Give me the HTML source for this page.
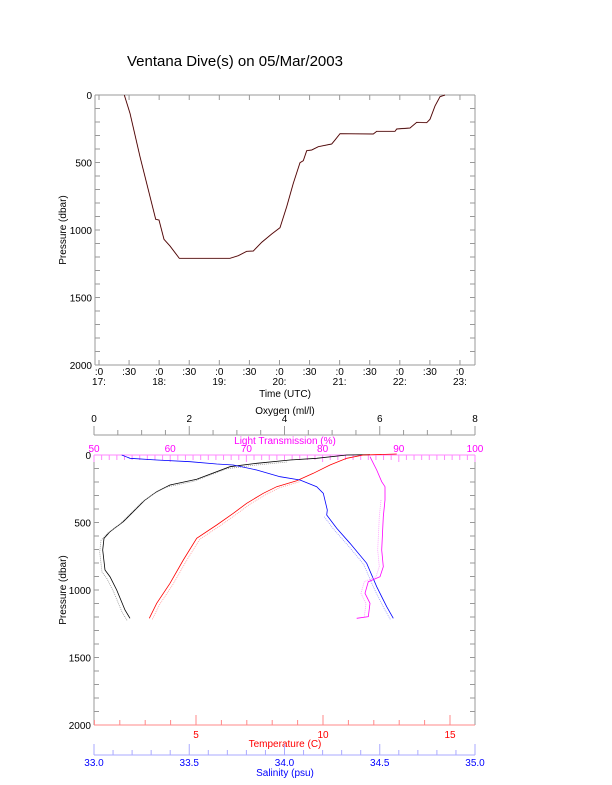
<!DOCTYPE html>
<html><head><meta charset="utf-8"><style>
html,body{margin:0;padding:0;background:#fff;}
svg{display:block;font-family:"Liberation Sans",sans-serif;}
</style></head><body>
<svg id="s" width="612" height="785" viewBox="0 0 612 785" xmlns="http://www.w3.org/2000/svg">
<rect width="612" height="785" fill="#fff"/>
<text x="127" y="66" font-size="15" fill="#000">Ventana Dive(s) on 05/Mar/2003</text>
<g id="g"></g>
<polyline fill="none" stroke="#e88" stroke-width="1.2" points="124.3,95 130,113.3 140,156.7 151.7,203.3 155.7,219.3 159,220 164,239.3 170,246 179.3,258.3 230,258.3 238.3,255.7 246.7,251.3 253.3,251 261.7,242.3 271.7,234 280,227.7 286.7,206.7 293.3,183.3 300,162.7 303.3,160.7 306.7,150.7 311.7,150 318.3,146.7 331.7,144 335,140 340,133.7 373.3,134 376.7,131.3 395,131.3 396.7,129 410,128 416.7,122.3 426.7,122.7 430,119.3 435,106 440,96.7 445,95"/>
<polyline fill="none" stroke="#200" stroke-width="0.7" points="124.3,95 130,113.3 140,156.7 151.7,203.3 155.7,219.3 159,220 164,239.3 170,246 179.3,258.3 230,258.3 238.3,255.7 246.7,251.3 253.3,251 261.7,242.3 271.7,234 280,227.7 286.7,206.7 293.3,183.3 300,162.7 303.3,160.7 306.7,150.7 311.7,150 318.3,146.7 331.7,144 335,140 340,133.7 373.3,134 376.7,131.3 395,131.3 396.7,129 410,128 416.7,122.3 426.7,122.7 430,119.3 435,106 440,96.7 445,95"/>
<g fill="none" stroke-width="0.8">
<polyline stroke="#000" points="130,618.3 125,610 116.7,590 110,576.7 105,570 102.7,550 104,538.3 110,531.7 123.3,521.7 133.3,511.7 145,500 156.7,491.7 170,485 196.7,479.3 230,466.7 256.7,463.3 290,460 316.7,458.3 346.7,455 370,454.7"/>
<polyline stroke="#999" stroke-dasharray="1 1" transform="translate(-3,2)" points="130,618.3 125,610 116.7,590 110,576.7 105,570 102.7,550 104,538.3 110,531.7 123.3,521.7 133.3,511.7 145,500 156.7,491.7 170,485 196.7,479.3 230,466.7 256.7,463.3 290,460"/>
<polyline stroke="#f00" points="149.3,618.3 156.7,603.3 170,583.3 183.3,560 196.7,538.3 216.7,525 233.3,513.3 246.7,503.3 263.3,493.3 276.7,486.7 296.7,480.7 313.3,473.3 330,465 346.7,458.3 363.3,455 396.7,454"/>
<polyline stroke="#f99" stroke-dasharray="1 1" transform="translate(3,1)" points="149.3,618.3 156.7,603.3 170,583.3 183.3,560 196.7,538.3 216.7,525 233.3,513.3 246.7,503.3 263.3,493.3 276.7,486.7 296.7,480.7"/>
<polyline stroke="#00f" points="393.3,618.3 386.7,606.7 376.7,586.7 366.7,563.3 350,543.3 336.7,528.3 326.7,515 327.3,510 323.3,493.3 316.7,486.7 300,480 280,476.7 256.7,470 233.3,465 216.7,464 190,461.7 156.7,460 130,458.3 121.7,455"/>
<polyline stroke="#99f" stroke-dasharray="1 1" transform="translate(-3,1)" points="393.3,618.3 386.7,606.7 376.7,586.7 366.7,563.3 350,543.3 336.7,528.3 326.7,515"/>
<polyline stroke="#f0f" points="356.7,618.3 368.3,616.7 370,603.3 365,593.3 368.3,581.7 380,576.7 383.3,566.7 381.7,550 383.3,516.7 385,500 385,486.7 381.7,481.7 376.7,470 370,456.7"/>
<polyline stroke="#f9f" stroke-dasharray="1 1" transform="translate(-4,0)" points="368.3,616.7 370,603.3 365,593.3 368.3,581.7 380,576.7 383.3,566.7 381.7,550 383.3,516.7 385,500"/>
</g>
</svg>
<script>
var g=document.getElementById('g'),h='';
function L(x1,y1,x2,y2,c){h+='<line x1="'+x1+'" y1="'+y1+'" x2="'+x2+'" y2="'+y2+'" stroke="'+c+'" stroke-width="1"/>';}
function T(x,y,t,c,a,sz){h+='<text x="'+x+'" y="'+y+'" font-size="'+(sz||10)+'" fill="'+(c||'#000')+'" text-anchor="'+(a||'middle')+'">'+t+'</text>';}
var gr='#999';
L(95,95,475,95,gr);L(95,365,475,365,gr);L(95,95,95,365,gr);L(475,95,475,365,gr);
for(var p=0;p<=2000;p+=100){var y=95+p*0.135;L(95,y,100,y,gr);L(470,y,475,y,gr);}
['0','500','1000','1500','2000'].forEach(function(t,i){T(92,99+i*67.5,t,'#000','end');});
for(var i=0;i<=12;i++){var x=99+i*30.08;L(x,365,x,360,gr);L(x,95,x,100,gr);
 T(x,375,i%2?':30':':0');if(i%2==0)T(x,385,(17+i/2)+':');}
T(285,397,'Time (UTC)');
h+='<text transform="translate(66,230) rotate(-90)" font-size="10" text-anchor="middle">Pressure (dbar)</text>';
L(94,455,94,725,gr);L(475,455,475,725,gr);
for(var p=0;p<=2000;p+=100){var y=455+p*0.135;L(94,y,99,y,gr);L(470,y,475,y,gr);}
['0','500','1000','1500','2000'].forEach(function(t,i){T(91,459+i*67.5,t,'#000','end');});
h+='<text transform="translate(66,590) rotate(-90)" font-size="10" text-anchor="middle">Pressure (dbar)</text>';
L(94,435,475,435,gr);
for(var i=0;i<=16;i++){var x=94+i*381/16;L(x,435,x,i%4?430:426,gr);}
[0,2,4,6,8].forEach(function(v,i){T(94+i*95.25,422,v);});
T(285,414,'Oxygen (ml/l)');
var mg='#f0f';L(94,455,475,455,'#f8f');
for(var i=0;i<=50;i++){var x=94+i*7.62;L(x,455,x,i%10?460:462,'#f8f');}
[50,60,70,80,90,100].forEach(function(v,i){T(94+i*76.2,452,v,mg);});
T(285,444,'Light Transmission (%)',mg);
L(94,725,475,725,'#f88');
for(var t=1;t<=16;t++){var x=69+t*25.4;if(x>475)break;L(x,725,x,t%5?720:715,'#f88');}
[5,10,15].forEach(function(v){T(69+v*25.4,738,v,'#f00');});
T(285,747,'Temperature (C)','#f00');
L(94,755,475,755,'#aaf');
for(var i=0;i<=20;i++){var x=94+i*19.05;L(x,755,x,i%5?750:744,'#aaf');}
['33.0','33.5','34.0','34.5','35.0'].forEach(function(v,i){T(94+i*95.25,766,v,'#00f');});
T(285,776,'Salinity (psu)','#00f');
g.innerHTML=h;
</script>
</body></html>
